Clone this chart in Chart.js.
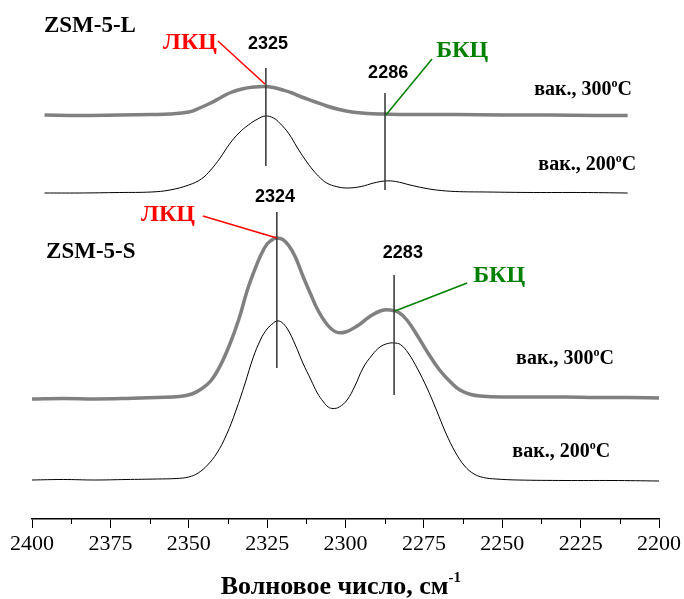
<!DOCTYPE html>
<html>
<head>
<meta charset="utf-8">
<title>ИК-спектры CD3CN, ZSM-5</title>
<script src="https://cdn.jsdelivr.net/npm/chart.js@4.4.1/dist/chart.umd.min.js"></script>
<style>
    html, body { margin: 0; padding: 0; background: #ffffff; }
    #wrap { width: 684px; height: 599px; position: relative; }
</style>
</head>
<body>
<div id="wrap"><canvas id="irChart"></canvas></div>
<script>
// Spectra data (wavenumber, cm-1 / absorbance in arbitrary units, curves offset)

// ZSM-5-L, вак. 300°C
const wnL300 = [2396, 2385, 2372, 2362, 2356, 2350, 2346.5, 2343, 2340, 2337, 2333, 2329, 2326, 2323, 2320, 2317, 2314, 2310, 2306, 2302, 2298, 2293, 2288, 2280, 2265, 2250, 2235, 2220, 2210];
const absL300 = [404, 403.5, 404, 404.5, 405, 407, 411, 416, 421, 426, 430, 432, 432.5, 431.5, 429, 426, 422, 417.5, 413, 409.5, 407, 405.5, 405, 404.5, 404.5, 404, 404, 403.5, 403.5];

// ZSM-5-L, вак. 200°C
const wnL200 = [2396, 2385, 2372, 2362, 2356, 2350, 2346, 2343, 2340, 2337, 2334, 2331, 2328, 2325.5, 2323, 2321, 2318, 2315.5, 2313, 2310.4, 2308, 2306, 2303, 2299.5, 2295, 2291, 2287.4, 2284, 2279.4, 2275, 2271, 2265, 2255, 2240, 2225, 2210];
const absL200 = [326, 326, 326.5, 327, 329, 334, 340, 349, 361, 375, 386, 394, 400, 403, 401, 396, 385, 372, 360, 349, 341, 336, 332.5, 331, 332.5, 336, 338, 337.5, 334, 331, 329, 327.5, 327, 326.5, 326.5, 326];

// ZSM-5-S, вак. 300°C
const wnS300 = [2400, 2390, 2380, 2370, 2360, 2353, 2349, 2346, 2343, 2340, 2337, 2334, 2331.4, 2329, 2327, 2325, 2323, 2321.9, 2320, 2318, 2316, 2313.6, 2311, 2309, 2306, 2303, 2300, 2296.3, 2292, 2288.5, 2285.8, 2283, 2280.4, 2277, 2273.5, 2270, 2266.5, 2263.5, 2260, 2257, 2250, 2240, 2230, 2220, 2210, 2200];
const absS300 = [120, 120.5, 120, 120.5, 121.5, 122.5, 125, 130, 138, 153, 174, 200, 228, 249, 264, 275, 280, 281, 279.5, 273, 262, 243, 224, 210, 195, 187, 187, 193, 203, 208.5, 209, 206.5, 199, 183, 165, 149, 137, 129, 124.5, 123, 122, 122, 122, 121.5, 121.5, 121];

// ZSM-5-S, вак. 200°C
const wnS200 = [2400, 2390, 2380, 2370, 2360, 2354, 2350, 2347, 2344, 2341, 2338, 2335, 2332, 2329.5, 2327, 2325, 2323, 2321.9, 2320.5, 2318.5, 2316, 2313.6, 2311, 2309, 2307, 2305.5, 2304, 2302, 2299.5, 2297, 2294.4, 2291.5, 2289, 2286.5, 2284.5, 2282.5, 2280, 2277, 2274, 2271, 2268, 2265, 2262, 2259, 2256, 2252, 2245, 2230, 2215, 2200];
const absS200 = [39, 39.5, 39, 39.5, 40, 40.5, 42, 46, 54, 66, 84, 108, 136, 161, 180, 190, 196, 198, 197, 190, 174, 156, 139, 126, 117, 112, 110.5, 112, 119, 133, 151, 164, 172, 175.5, 176, 174.5, 166, 150, 131, 109, 86, 67, 53, 45, 41.5, 40, 39, 38.5, 38.5, 38];

// Axis ticks
const majorTicks = [2400, 2375, 2350, 2325, 2300, 2275, 2250, 2225, 2200];
const minorTicks = [2387.5, 2362.5, 2337.5, 2312.5, 2287.5, 2262.5, 2237.5, 2212.5];

const serif = '"Liberation Serif", "Times New Roman", serif';
const sans = '"Liberation Sans", Arial, sans-serif';

function toPoints(wn, abs) {
    return wn.map((w, i) => ({ x: w, y: abs[i] }));
}

// Text with superscript part ("300°C", "см-1")
function drawSup(ctx, parts, x, y, align) {
    let total = 0;
    parts.forEach(p => { ctx.font = p.font; p.w = ctx.measureText(p.text).width; total += p.w; });
    let cx = align === 'right' ? x - total : (align === 'center' ? x - total / 2 : x);
    parts.forEach(p => {
        ctx.font = p.font;
        ctx.textAlign = 'left';
        ctx.textBaseline = 'alphabetic';
        ctx.fillText(p.text, cx, y - (p.rise || 0));
        cx += p.w;
    });
}

function tempLabel(ctx, temp, x, y) {
    drawSup(ctx, [
        { text: 'вак., ' + temp, font: 'bold 20px ' + serif },
        { text: 'o', font: 'bold 12px ' + serif, rise: 8 },
        { text: 'C', font: 'bold 20px ' + serif }
    ], x, y, 'right');
}

// Annotations: peak markers, labels, leader lines, minor ticks, axis title
const annotations = {
    id: 'annotations',
    afterDraw(chart) {
        const { ctx, scales: { x, y } } = chart;
        const px = v => x.getPixelForValue(v);
        const py = v => y.getPixelForValue(v);
        ctx.save();

        // minor ticks
        ctx.strokeStyle = '#000';
        ctx.lineWidth = 1;
        minorTicks.forEach(t => {
            const xx = Math.round(px(t)) + 0.5;
            ctx.beginPath();
            ctx.moveTo(xx, y.bottom);
            ctx.lineTo(xx, y.bottom + 5);
            ctx.stroke();
        });

        // peak position lines
        ctx.strokeStyle = '#333';
        ctx.lineWidth = 1.5;
        [[2325.4, 353, 451], [2287.4, 329, 426], [2321.9, 151, 307], [2284.5, 124, 244]].forEach(m => {
            ctx.beginPath();
            ctx.moveTo(px(m[0]), py(m[1]));
            ctx.lineTo(px(m[0]), py(m[2]));
            ctx.stroke();
        });

        // leader lines
        function leader(color, a, b) {
            ctx.strokeStyle = color;
            ctx.lineWidth = 1.5;
            ctx.beginPath();
            ctx.moveTo(px(a[0]), py(a[1]));
            ctx.lineTo(px(b[0]), py(b[1]));
            ctx.stroke();
        }
        leader('#ff0000', [2340.7, 478], [2325.7, 435]);
        leader('#008000', [2287.1, 404], [2272.4, 460]);
        leader('#ff0000', [2345.5, 303], [2321.9, 281]);
        leader('#008000', [2284.2, 208], [2261.2, 236]);

        function text(str, font, color, wn, val, align) {
            ctx.font = font;
            ctx.fillStyle = color;
            ctx.textAlign = align || 'center';
            ctx.textBaseline = 'middle';
            ctx.fillText(str, px(wn), py(val));
        }

        // sample names
        text('ZSM-5-L', 'bold 23px ' + serif, '#000', 2396.2, 493, 'left');
        text('ZSM-5-S', 'bold 23px ' + serif, '#000', 2395.5, 267, 'left');

        // site labels
        text('ЛКЦ', 'bold 24px ' + serif, '#ff0000', 2349.6, 476);
        text('БКЦ', 'bold 24px ' + serif, '#008000', 2262.8, 468);
        text('ЛКЦ', 'bold 24px ' + serif, '#ff0000', 2356.6, 304);
        text('БКЦ', 'bold 24px ' + serif, '#008000', 2251.0, 243);

        // peak wavenumbers
        text('2325', 'bold 18px ' + sans, '#000', 2324.7, 475);
        text('2286', 'bold 18px ' + sans, '#000', 2286.4, 446);
        text('2324', 'bold 18px ' + sans, '#000', 2322.5, 322);
        text('2283', 'bold 18px ' + sans, '#000', 2281.7, 266);

        // activation temperatures
        ctx.fillStyle = '#000';
        tempLabel(ctx, '300', px(2208.6), py(431) + 7);
        tempLabel(ctx, '200', px(2207.3), py(356) + 7);
        tempLabel(ctx, '300', px(2214.4), py(162) + 7);
        tempLabel(ctx, '200', px(2215.6), py(69) + 7);

        // x axis title
        drawSup(ctx, [
            { text: 'Волновое число, см', font: 'bold 26px ' + serif },
            { text: '-1', font: 'bold 15px ' + serif, rise: 12 }
        ], px(2301.5), 594, 'center');

        ctx.restore();
    }
};

const ctx = document.getElementById('irChart').getContext('2d');
const irChart = new Chart(ctx, {
    type: 'line',
    data: {
        datasets: [{
            label: 'ZSM-5-L, вак. 300°C',
            data: toPoints(wnL300, absL300),
            borderColor: '#808080',
            borderWidth: 3.5
        }, {
            label: 'ZSM-5-L, вак. 200°C',
            data: toPoints(wnL200, absL200),
            borderColor: '#000000',
            borderWidth: 1
        }, {
            label: 'ZSM-5-S, вак. 300°C',
            data: toPoints(wnS300, absS300),
            borderColor: '#808080',
            borderWidth: 3.5
        }, {
            label: 'ZSM-5-S, вак. 200°C',
            data: toPoints(wnS200, absS200),
            borderColor: '#000000',
            borderWidth: 1
        }]
    },
    options: {
        responsive: true,
        maintainAspectRatio: false,
        animation: false,
        layout: {
            padding: { left: 32, right: 25, top: 0, bottom: 0 }
        },
        elements: {
            point: { radius: 0 },
            line: { tension: 0.4, fill: false, borderJoinStyle: 'round' }
        },
        plugins: {
            legend: { display: false },
            tooltip: { enabled: false }
        },
        scales: {
            x: {
                type: 'linear',
                reverse: true,
                min: 2200,
                max: 2400,
                afterBuildTicks: function(scale) {
                    scale.ticks = majorTicks.map(v => ({ value: v }));
                },
                afterFit: function(scale) {
                    scale.height = 80;
                },
                ticks: {
                    autoSkip: false,
                    maxRotation: 0,
                    color: '#000',
                    padding: 3,
                    font: { family: serif, size: 22 },
                    callback: v => String(v)
                },
                grid: {
                    drawOnChartArea: false,
                    tickLength: 9,
                    color: '#000',
                    lineWidth: 1
                },
                border: { display: true, color: '#000', width: 1.5 }
            },
            y: {
                display: false,
                min: 0,
                max: 519
            }
        }
    },
    plugins: [annotations]
});
</script>
</body>
</html>
